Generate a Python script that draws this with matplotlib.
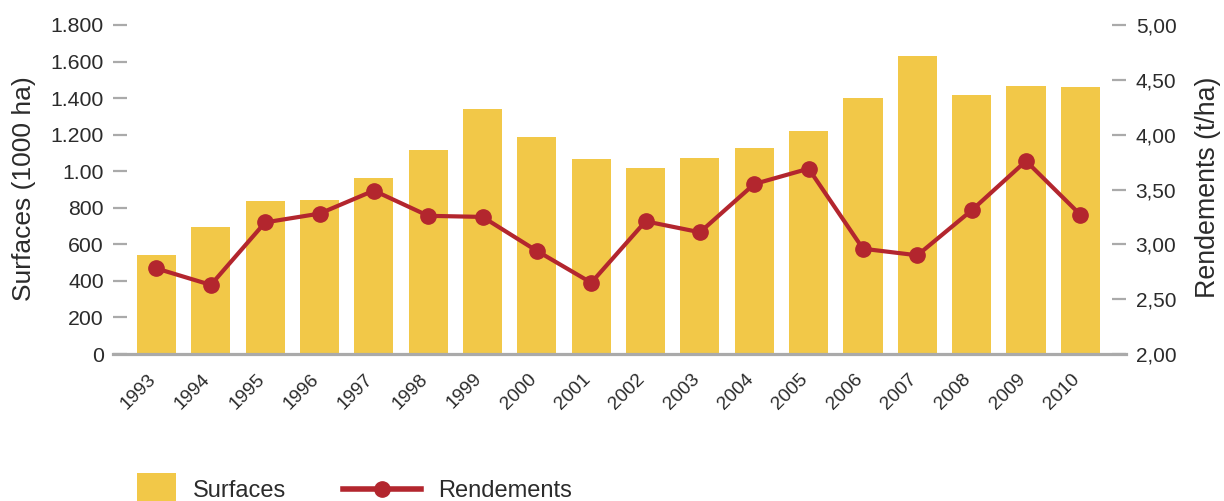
import matplotlib
matplotlib.use("Agg")
import matplotlib.pyplot as plt
from matplotlib.patches import Patch
from matplotlib.lines import Line2D

plt.rcParams['font.family'] = ['Liberation Sans', 'DejaVu Sans']

years = ["1993", "1994", "1995", "1996", "1997", "1998", "1999", "2000", "2001",
         "2002", "2003", "2004", "2005", "2006", "2007", "2008", "2009", "2010"]
surfaces = [540, 695, 838, 843, 963, 1116, 1340, 1187, 1067,
            1018, 1072, 1127, 1220, 1400, 1630, 1417, 1466, 1461]
rendements = [2.78, 2.63, 3.20, 3.28, 3.49, 3.26, 3.25, 2.94, 2.65,
              3.21, 3.11, 3.55, 3.69, 2.96, 2.90, 3.31, 3.76, 3.27]

left_ticks = [0, 200, 400, 600, 800, 1000, 1200, 1400, 1600, 1800]
left_labels = ["0", "200", "400", "600", "800", "1.00", "1.200", "1.400", "1.600", "1.800"]
right_ticks = [2.0, 2.5, 3.0, 3.5, 4.0, 4.5, 5.0]
right_labels = ["2,00", "2,50", "3,00", "3,50", "4,00", "4,50", "5,00"]

BAR = "#F2C848"
LINE = "#B3262E"
GREY = "#AAAAAA"
TXT = "#2B2B2B"

fig = plt.figure(figsize=(12.24, 5.01), dpi=100)
ax = fig.add_axes([113/1224, 1-354/501, 1013/1224, 329/501])
ax2 = ax.twinx()

x = list(range(len(years)))
ax.bar(x, surfaces, width=0.72, color=BAR, zorder=2)
ax2.plot(x, rendements, color=LINE, lw=3, marker='o', markersize=11, zorder=3)

ax.set_xlim(-0.8, 17.84)
ax.set_ylim(0, 1800)
ax2.set_ylim(2.0, 5.0)

ax.set_yticks(left_ticks)
ax.set_yticklabels(left_labels)
ax2.set_yticks(right_ticks)
ax2.set_yticklabels(right_labels)
ax.set_xticks(x)
ax.set_xticklabels(years, rotation=45, ha='right', va='baseline', rotation_mode='anchor')

for a in (ax, ax2):
    for s in ('left', 'right', 'top', 'bottom'):
        a.spines[s].set_visible(False)
ax.spines['bottom'].set_visible(True)
ax.spines['bottom'].set_color(GREY)
ax.spines['bottom'].set_linewidth(2.3)
ax.spines['bottom'].set_zorder(5)

ax.tick_params(axis='x', length=0, pad=18.5, labelsize=13.8, labelcolor=TXT)
ax.tick_params(axis='y', direction='in', length=10, width=1.6, color=GREY,
               pad=6.5, labelsize=15.3, labelcolor=TXT, right=False)
ax2.tick_params(axis='y', direction='in', length=10, width=1.6, color=GREY,
                pad=7, labelsize=15, labelcolor=TXT, left=False)

ax.set_ylabel("Surfaces (1000 ha)", fontsize=19, color=TXT, va='center')
ax.yaxis.set_label_coords(-0.0875, 0.503)
ax2.set_ylabel("Rendements (t/ha)", fontsize=19.3, color=TXT, va='center', rotation=90)
ax2.yaxis.set_label_coords(1.081, 0.507)

fs = 17
px = fs * 100 / 72
leg1 = fig.legend(handles=[Patch(facecolor=BAR, edgecolor='none', label="Surfaces")],
                  loc='center left', bbox_to_anchor=(137/1224, 1 - 489/501),
                  frameon=False, fontsize=fs, borderpad=0, borderaxespad=0,
                  handlelength=39/px, handleheight=39/px, handletextpad=17/px,
                  labelcolor=TXT)
leg2 = fig.legend(handles=[Line2D([], [], color=LINE, lw=4, marker='o', markersize=11,
                                  label="Rendements")],
                  loc='center left', bbox_to_anchor=(343/1224, 1 - 491/501),
                  frameon=False, fontsize=fs, borderpad=0, borderaxespad=0,
                  handlelength=78/px, handletextpad=17/px,
                  labelcolor=TXT)

fig.savefig("out.png", dpi=100)
